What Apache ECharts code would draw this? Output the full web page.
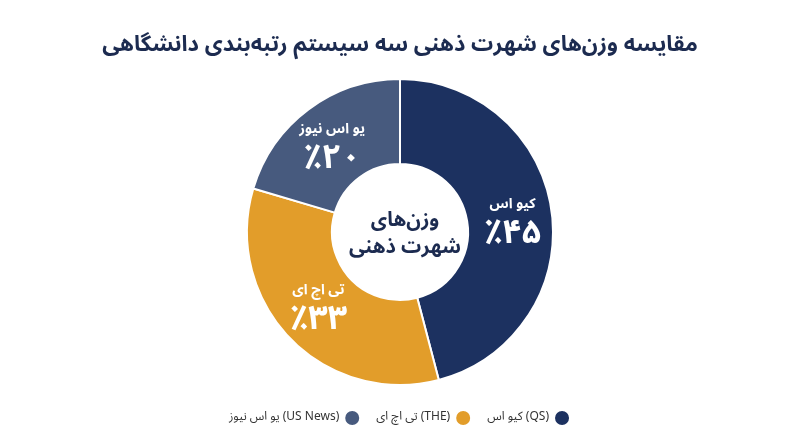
<!DOCTYPE html>
<html>
<head>
<meta charset="utf-8">
<script src="https://cdn.jsdelivr.net/npm/echarts@6/dist/echarts.min.js"></script>
<style>
html,body{margin:0;padding:0;background:#fff;}
#c{width:800px;height:447px;}
</style>
</head>
<body>
<div id="c"></div>
<script>
const titleText = 'مقایسه وزن‌های شهرت ذهنی سه سیستم رتبه‌بندی دانشگاهی';
const centerText = 'وزن‌های\nشهرت ذهنی';
const shortNames = ['کیو اس', 'تی اچ ای', 'یو اس نیوز'];
const legendNames = ['کیو اس (QS)', 'تی اچ ای (THE)', 'یو اس نیوز (US News)'];
const values = [45, 33, 20];
const colors = ['#1c3160', '#e29d2a', '#475a7e'];

const FONT = '"Noto Sans Arabic", "Noto Sans", "DejaVu Sans", sans-serif';
function fa(n){ return String(n).replace(/\d/g, d => '۰۱۲۳۴۵۶۷۸۹'[d]); }

const data = values.map((v, i) => ({
  value: v,
  name: legendNames[i],
  short: shortNames[i],
  itemStyle: { color: colors[i] }
}));

const labelShift = [7, 0, 9];

const chart = echarts.init(document.getElementById('c'));
chart.setOption({
  backgroundColor: '#fff',
  title: [{
    text: titleText,
    left: 'center',
    top: 32,
    textStyle: { fontFamily: FONT, fontSize: 22, fontWeight: 'bold', color: '#1c2b50' }
  }, {
    text: centerText,
    left: 400,
    top: 204,
    textAlign: 'center',
    textStyle: { fontFamily: FONT, fontSize: 20, fontWeight: 'bold', color: '#1c2b50', lineHeight: 27 }
  }],
  legend: {
    data: legendNames.slice().reverse(),
    bottom: 15,
    left: 'center',
    align: 'right',
    icon: 'circle',
    itemWidth: 16,
    itemHeight: 16,
    itemGap: 15,
    textStyle: { fontFamily: FONT, fontSize: 12, color: '#333' }
  },
  series: [{
    type: 'pie',
    center: [400, 232],
    radius: [68, 153],
    startAngle: 90,
    clockwise: true,
    avoidLabelOverlap: false,
    itemStyle: { borderColor: '#fff', borderWidth: 2 },
    label: {
      show: true,
      position: 'inside',
      formatter: p => '{n|' + p.data.short + '}\n{v|٪' + fa(p.value) + '}',
      rich: {
        n: { fontFamily: FONT, fontSize: 14, fontWeight: 'bold', color: '#fff', lineHeight: 26 },
        v: { fontFamily: FONT, fontSize: 34, fontWeight: 'bold', color: '#fff', lineHeight: 38 }
      }
    },
    labelLayout: p => ({ dy: labelShift[p.dataIndex] }),
    labelLine: { show: false },
    emphasis: { disabled: true },
    data: data
  }]
});
</script>
</body>
</html>
